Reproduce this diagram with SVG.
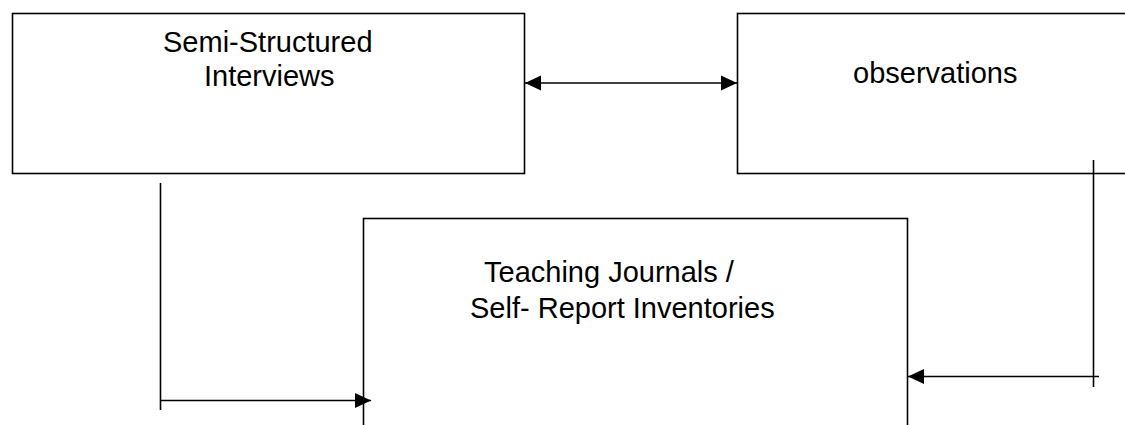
<svg xmlns="http://www.w3.org/2000/svg" width="1125" height="425" viewBox="0 0 1125 425">
<style>
.box{fill:#fff;stroke:#000;stroke-width:1.6}
.ln{fill:none;stroke:#000;stroke-width:1.6}
.t{font-family:"Liberation Sans",Arial,sans-serif;font-size:29px;fill:#000}
</style>
<defs>
<marker id="ah" markerUnits="userSpaceOnUse" markerWidth="16" markerHeight="16" viewBox="0 0 16 16" refX="16" refY="8" orient="auto-start-reverse">
<path d="M0,0.5 L16,8 L0,15.5 Z" fill="#000"/>
</marker>
</defs>
<rect width="1125" height="425" fill="#fff"/>
<g id="node-interviews">
<rect class="box" x="12.5" y="13.5" width="512" height="160"/>
<text class="t" x="163" y="52">Semi-Structured</text>
<text class="t" x="204" y="86">Interviews</text>
</g>
<g id="node-observations">
<rect class="box" x="737.5" y="13.5" width="420" height="160"/>
<text class="t" x="853" y="83">observations</text>
</g>
<g id="node-journals">
<rect class="box" x="363.5" y="218.5" width="544" height="240"/>
<text class="t" x="484" y="282">Teaching Journals /</text>
<text class="t" x="470" y="318">Self- Report Inventories</text>
</g>
<g id="connectors">
<line class="ln" x1="525" y1="83" x2="737" y2="83" marker-start="url(#ah)" marker-end="url(#ah)"/>
<line class="ln" x1="160.5" y1="183" x2="160.5" y2="410"/>
<line class="ln" x1="160" y1="400.5" x2="371" y2="400.5" marker-end="url(#ah)"/>
<line class="ln" x1="1093.5" y1="160" x2="1093.5" y2="387"/>
<line class="ln" x1="1099" y1="376.5" x2="908" y2="376.5" marker-end="url(#ah)"/>
</g>
</svg>
